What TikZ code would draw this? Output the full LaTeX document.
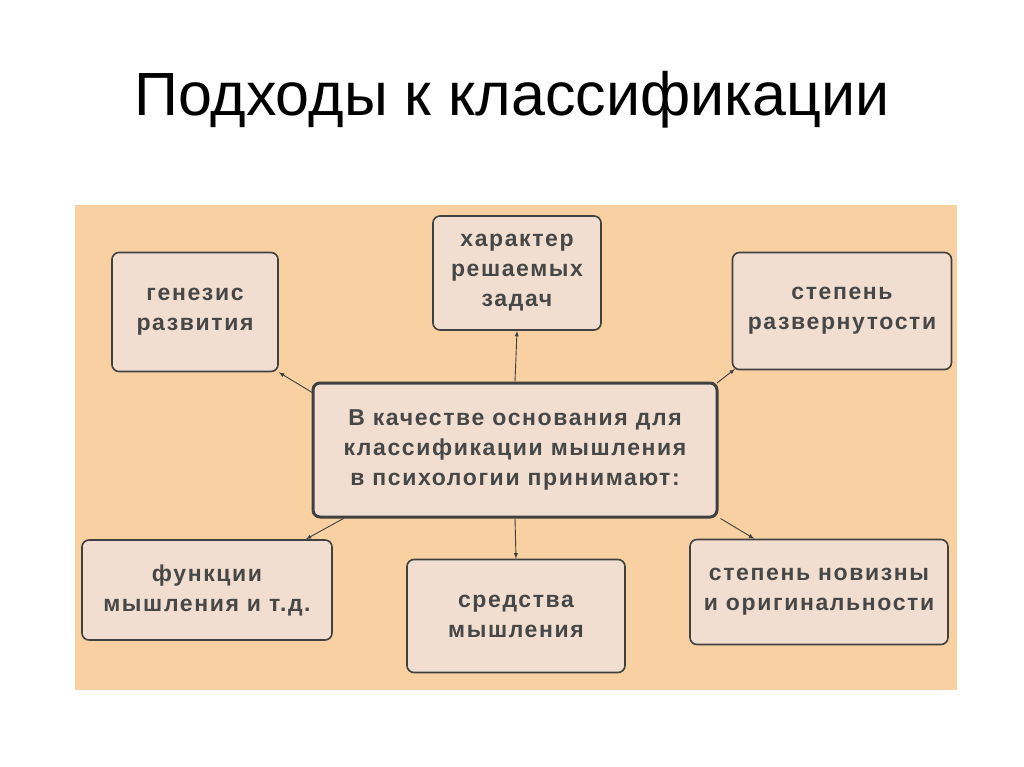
\documentclass[tikz,border=0pt]{standalone}
\usepackage{fontspec}
\setmainfont{Liberation Sans}
\begin{document}
\begin{tikzpicture}[x=1pt,y=-1pt,
  box/.style={draw=black!75,line width=1.6pt,fill=boxfill,rounded corners=7pt,align=center,
    font=\fontsize{23}{30}\selectfont\bfseries\addfontfeature{LetterSpace=7},text=black!72,inner sep=0pt},
  arr/.style={-latex,line width=0.9pt,black!75}]
\definecolor{panel}{RGB}{248,208,162}
\definecolor{boxfill}{RGB}{242,222,208}
\useasboundingbox (0,0) rectangle (1024,767);
\fill[white] (0,0) rectangle (1024,767);
\node (title) at (512,100) {\fontsize{61}{66}\selectfont Подходы к классификации};
\fill[panel] (75,205) rectangle (957,690);
\node[box,minimum width=166pt,minimum height=119pt] (gen) at (195,312) {генезис\\развития};
\node[box,minimum width=168pt,minimum height=114pt] (har) at (517,273) {характер\\решаемых\\задач};
\node[box,minimum width=219pt,minimum height=117pt] (razv) at (842,311) {степень\\развернутости};
\node[box,line width=3pt,minimum width=404pt,minimum height=134pt] (c) at (515,450) {В качестве основания для\\классификации мышления\\в психологии принимают:};
\node[box,minimum width=250pt,minimum height=100pt] (fun) at (207,590) {функции\\мышления и т.д.};
\node[box,minimum width=218pt,minimum height=113pt] (sr) at (516,616) {средства\\мышления};
\node[box,minimum width=258pt,minimum height=105pt] (nov) at (819,592) {степень новизны\\и оригинальности};
\coordinate (g1) at (313,393);
\coordinate (r1) at (717,383);
\coordinate (r2) at (735,369);
\draw[arr] (g1) -- (gen.south east);
\draw[arr] (c.north) -- (har.south);
\draw[arr] (r1) -- (r2);
\draw[arr] ([xshift=32pt]c.south west) -- ([xshift=-27pt]fun.south east |- fun.north);
\draw[arr] (c.south) -- (sr.north);
\draw[arr] ([xshift=2pt]c.south east) -- ([xshift=65pt]nov.north west);
\end{tikzpicture}
\end{document}
